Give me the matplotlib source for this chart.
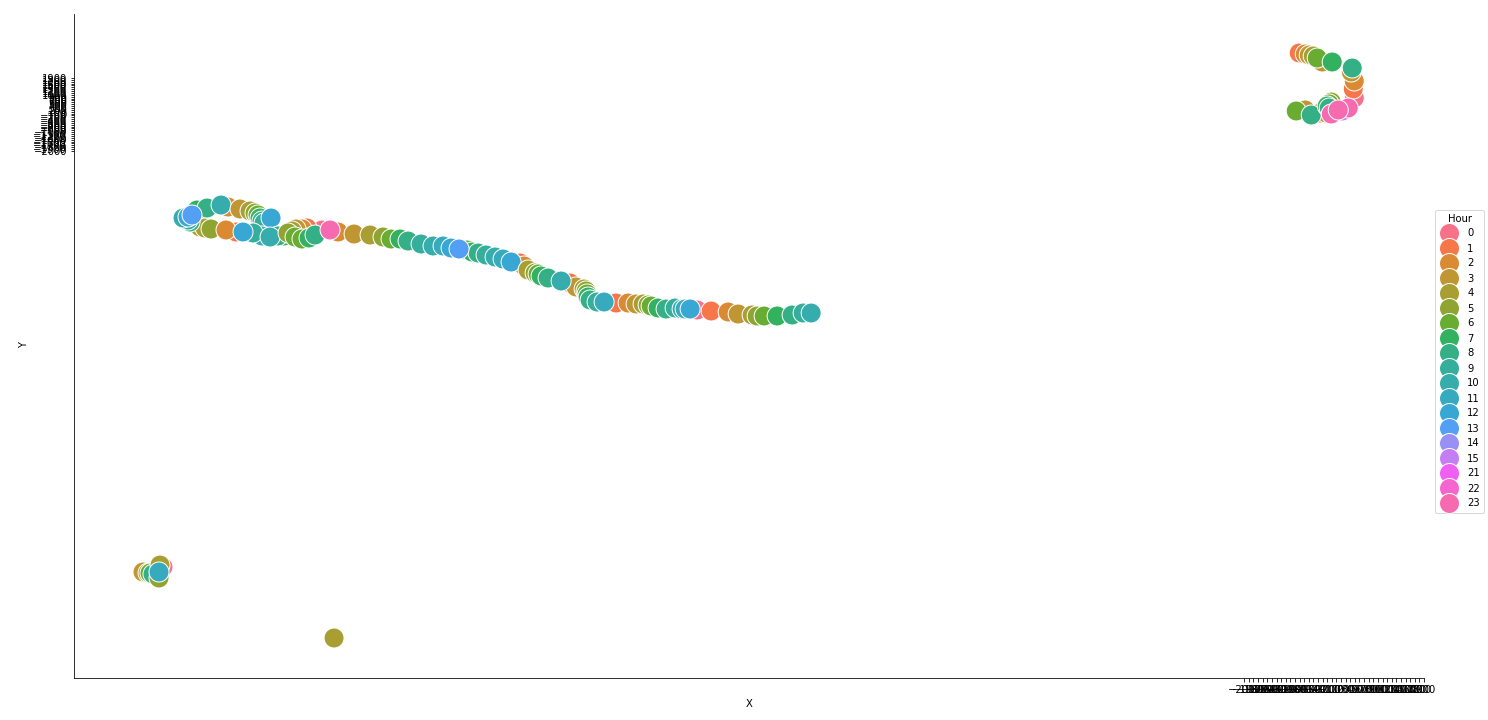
import matplotlib
matplotlib.use("Agg")
import matplotlib.pyplot as plt
from matplotlib.lines import Line2D
import seaborn as sns

hour_levels = [0,1,2,3,4,5,6,7,8,9,10,11,12,13,14,15,21,22,23]

# cluster at lower left and the lone point
x_a = [-25892,-25783,-25740,-25675,-25458,-25545,-25523,-25545,-21747]
y_a = [-24529,-24583,-24583,-24636,-24261,-24850,-24155,-24529,-28060]
h_a = [3,4,6,8,0,5,4,11,4]

# loop at the left
x_b = [-24655,-24546,-24416,-23874,-24091,-24872,-24915,-25024,
       -24047,-24720,-24503,-24199,-23787,-23570,-23461,-23396,-23353,-23310,-23266,
       -24915,-24829,-23114,
       -22832,-22962,-23310,-23505,-23722,-23136,
       -22008,-22333,-22442,-22572,-22659,-22745,-22593,-22442,-22290,-22159]
y_b = [-6071,-6125,-6179,-6339,-6232,-5804,-5697,-5590,
       -5002,-5162,-5055,-4895,-5109,-5216,-5323,-5430,-5590,-5751,-5858,
       -5537,-5430,-5590,
       -6553,-6553,-6553,-6393,-6339,-6607,
       -6232,-6125,-6179,-6179,-6286,-6393,-6607,-6714,-6660,-6500]
h_b = [4,4,5,1,2,8,9,10,
       2,7,8,10,3,4,5,6,7,8,9,
       12,13,12,
       7,8,11,9,12,10,
       0,1,2,3,4,5,6,6,7,8]

# long middle track
x_c = [-21660,-21834,-21313,-20966,-20684,-20510,-20315,-20141,-19859,-19599,-19382,-19208,
       -18861,-18753,-18622,-19035,-18449,-18253,-18080,
       -17711,-17624,-17906,-16626,-16496,
       -17537,-17385,-17320,-17255,-17103,-16821,
       -15628,-16322,-16279,-16257,-16235,-16192,-16040,-15888,
       -13870,-15367,-15194,-15042,-14933,-14868,-14716,-14543,-14347,-14196,-14130,-14022,
       -13566,-13197,-12980,-12677,-12568,-12416,-12134,-11809,-11570,-11396]
y_c = [-6339,-6232,-6446,-6500,-6607,-6714,-6714,-6821,-6981,-7088,-7088,-7195,
       -7302,-7409,-7463,-7249,-7570,-7677,-7784,
       -7998,-8158,-7944,-9068,-9282,
       -8372,-8533,-8586,-8693,-8800,-8961,
       -10138,-9389,-9496,-9656,-9817,-9977,-10084,-10084,
       -10512,-10138,-10191,-10191,-10245,-10298,-10405,-10459,-10405,-10459,-10459,-10459,
       -10566,-10619,-10726,-10780,-10833,-10833,-10833,-10780,-10673,-10673]
h_c = [2,23,3,4,5,6,7,8,9,10,11,12,
       6,7,8,13,9,10,11,
       1,2,12,1,3,
       4,5,6,7,8,10,
       1,4,5,6,7,8,9,11,
       0,2,3,4,5,6,7,8,9,10,11,12,
       1,2,3,4,5,6,7,8,9,10]

# hook at the upper right
x_d = [-308,-807,-676,-590,-503,-416,-91,387,365,387,322,343,
       -676,-351,-221,-872,-546,-112,-156,-199,-156,126,257,-112,40]
y_d = [2756,3238,3184,3130,3077,2970,2756,830,1312,1740,2221,2435,
       188,27,27,135,-80,616,509,402,295,135,295,-26,188]
h_d = [3,1,2,3,4,6,7,0,1,2,3,8,
       3,1,3,6,8,5,6,7,8,15,21,23,23]
h_d[22] = 23

x_vals = x_a + x_b + x_c + x_d
y_vals = y_a + y_b + y_c + y_d
hours = h_a + h_b + h_c + h_d

x_ticks = list(range(-2000, 2000, 100))
y_ticks = list(range(-2000, 2000, 100))

palette = sns.color_palette("husl", len(hour_levels))
colour = dict(zip(hour_levels, palette))

fig = plt.figure(figsize=(1488/72, 720/72), dpi=72)
ax = fig.add_axes([74/1488, (720-678)/720, (1424-74)/1488, (678-14)/720])
ax.scatter(x_vals, y_vals, s=400, c=[colour[h] for h in hours],
           edgecolors="white", linewidths=1.0, clip_on=False)
ax.set_xticks(x_ticks)
ax.set_yticks(y_ticks)
ax.set_xlim(-27389, 1900)
ax.set_ylim(-30200, 5324)
ax.set_xlabel("X")
ax.set_ylabel("Y")
ax.xaxis.set_label_coords((749-74)/1350, -(705-678-6)/664)
ax.yaxis.set_label_coords((29-74)/1350, (678-345)/664)
ax.spines["top"].set_visible(False)
ax.spines["right"].set_visible(False)

handles = [Line2D([], [], linestyle="", marker="o", markersize=20,
                  markerfacecolor=colour[h], markeredgecolor="white",
                  markeredgewidth=1.0, label=str(h)) for h in hour_levels]
fig.legend(handles=handles, title="Hour", loc="center right",
           bbox_to_anchor=(1484/1488, (720-361)/720), labelspacing=0.5,
           borderaxespad=0, fontsize=10, title_fontsize=10)
fig.savefig("out.png", dpi=72)
